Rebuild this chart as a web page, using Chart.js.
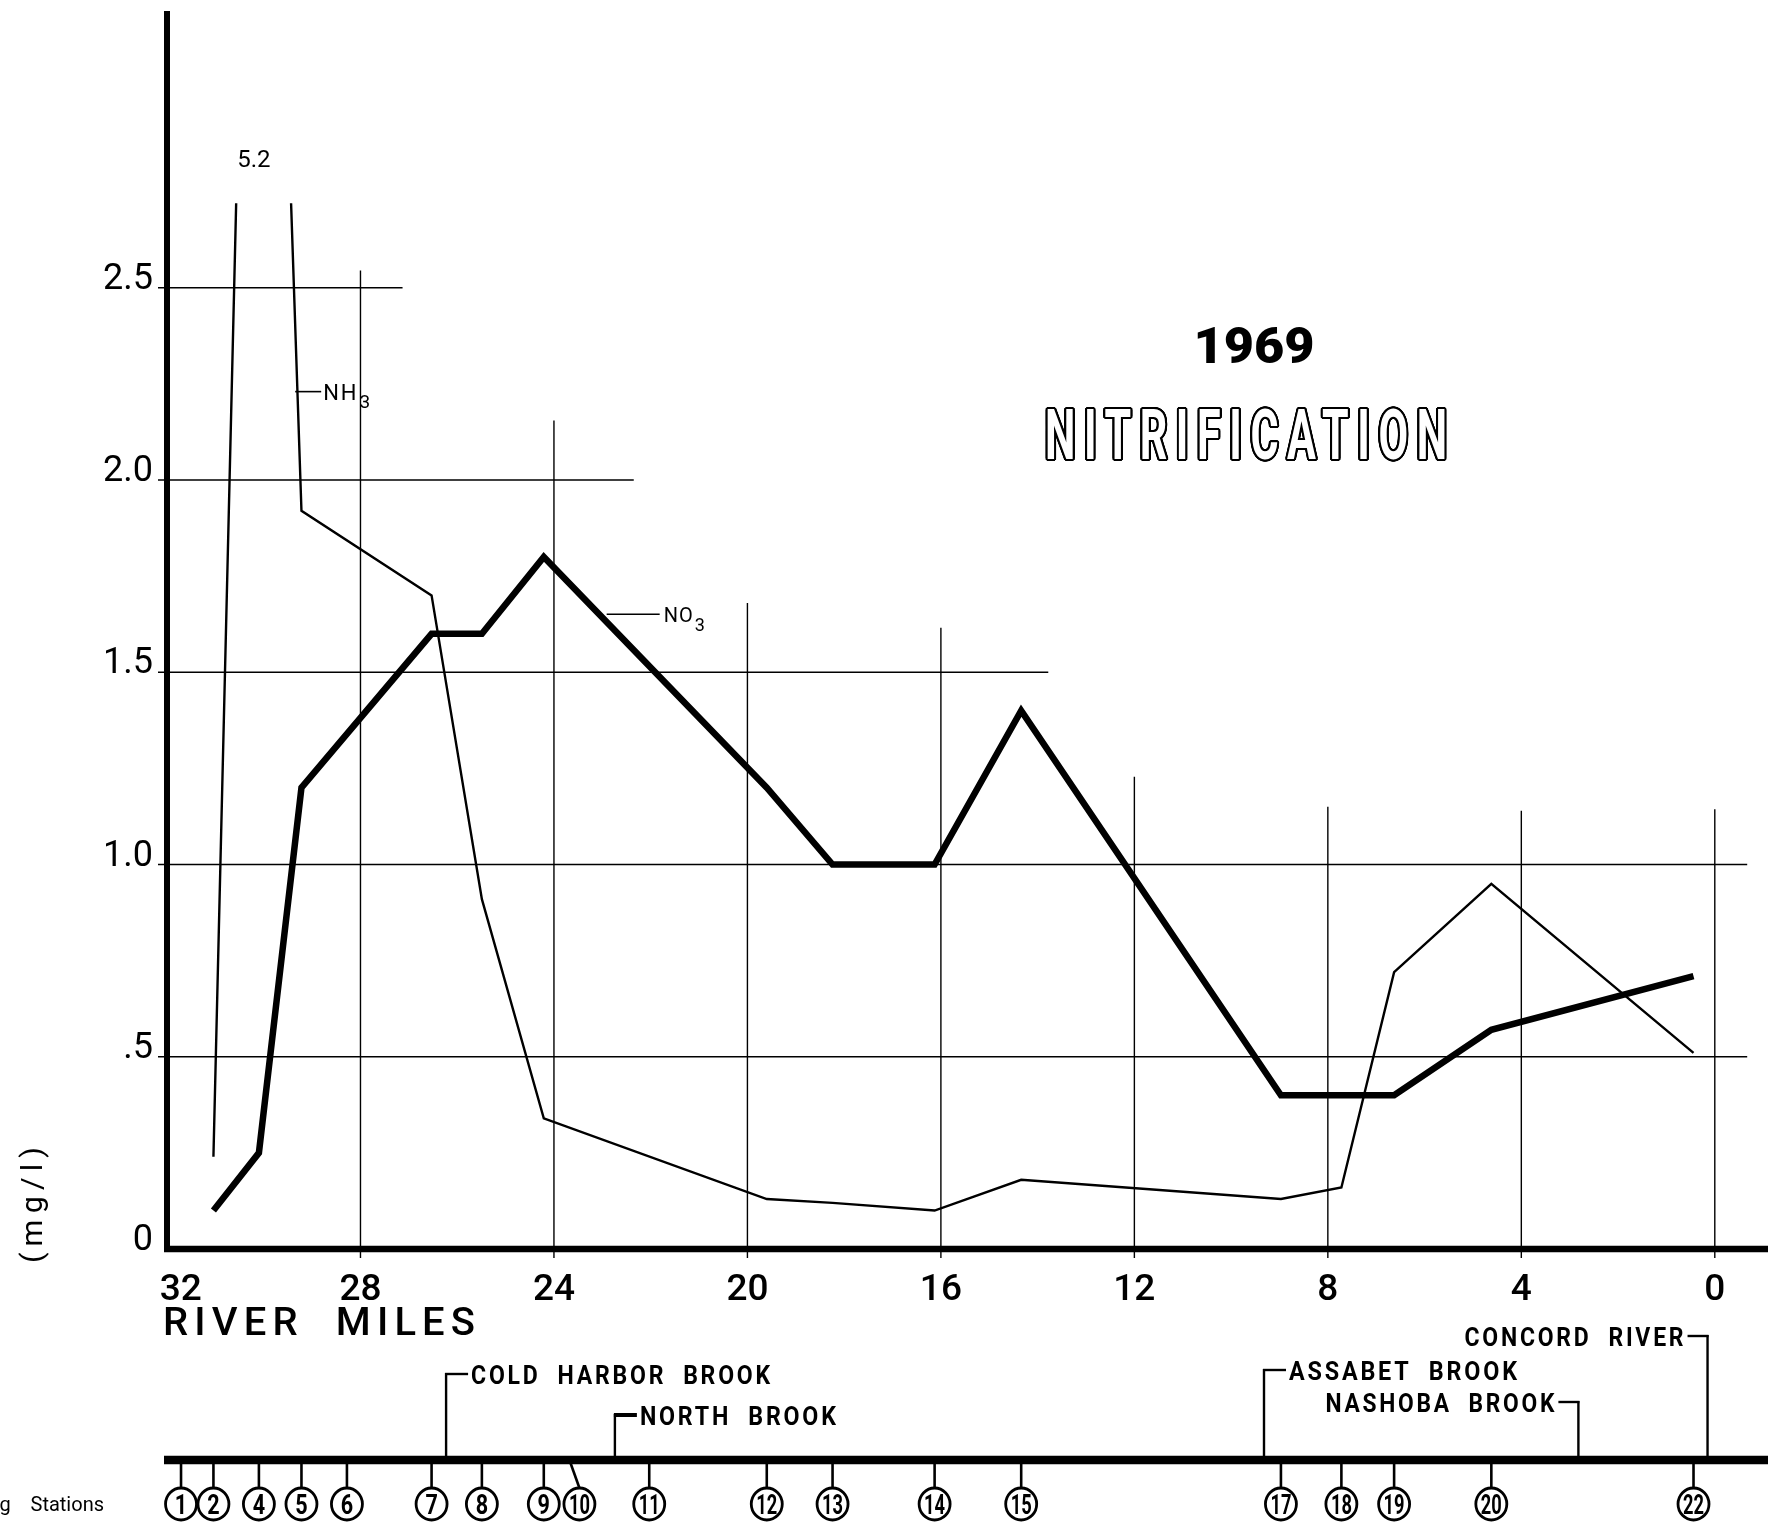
<!DOCTYPE html>
<html>
<head>
<meta charset="utf-8">
<title>1969 Nitrification</title>
<script src="https://cdn.jsdelivr.net/npm/chart.js@4.4.1/dist/chart.umd.min.js"></script>
<style>
  html, body { margin: 0; padding: 0; background: #ffffff; }
  canvas { display: block; }
</style>
</head>
<body>
<canvas id="chart" width="1768" height="1522"></canvas>
<script>
// ---- Axis ticks ----------------------------------------------------------
const mileTicks = [32, 28, 24, 20, 16, 12, 8, 4, 0];
const concTicks = [0, 0.5, 1.0, 1.5, 2.0, 2.5];
const concTickLabels = ['0', '.5', '1.0', '1.5', '2.0', '2.5'];

// ---- Sampling stations (number, river mile) -------------------------------
const stationNumbers = [1, 2, 4, 5, 6, 7, 8, 9, 10, 11, 12, 13, 14, 15, 17, 18, 19, 20, 22];
const stationMiles = [31.71, 31.04, 30.10, 29.22, 28.28, 26.53, 25.49, 24.21, 23.68, 22.03,
                      19.60, 18.24, 16.13, 14.34, 8.97, 7.72, 6.63, 4.62, 0.44];

// ---- Ammonia, NH3 (mg/l) --------------------------------------------------
const nh3Miles = [31.04, 30.10, 29.22, 26.53, 25.49, 24.21, 19.60, 18.24, 16.13, 14.34,
                  8.97, 7.72, 6.63, 4.62, 0.44];
const nh3Values = [0.24, 5.2, 1.92, 1.70, 0.91, 0.34, 0.13, 0.12, 0.10, 0.18,
                   0.13, 0.16, 0.72, 0.95, 0.51];

// ---- Nitrate, NO3 (mg/l) --------------------------------------------------
const no3Miles = [31.04, 30.10, 29.22, 26.53, 25.49, 24.21, 19.60, 18.24, 16.13, 14.34,
                  8.97, 6.63, 4.62, 0.44];
const no3Values = [0.10, 0.25, 1.20, 1.60, 1.60, 1.80, 1.20, 1.00, 1.00, 1.40,
                   0.40, 0.40, 0.57, 0.71];

// ---- Tributaries joining the river ---------------------------------------
const tributaryNames = ['COLD  HARBOR  BROOK', 'NORTH  BROOK', 'ASSABET  BROOK',
                        'NASHOBA  BROOK', 'CONCORD  RIVER'];
const tributaryMiles = [26.23, 22.74, 9.32, 2.82, 0.15];

// ---- Drawing settings -----------------------------------------------------
const INK = '#000000';
const NH3_CUT = 2.72;               // off-scale NH3 peak is broken at this level
const hGridEnds = {0.5: -0.67, 1.0: -0.67, 1.5: 13.78, 2.0: 22.35, 2.5: 27.13};
const vGridTops = {28: 2.545, 24: 2.155, 20: 1.68, 16: 1.616, 12: 1.228, 8: 1.15, 4: 1.14, 0: 1.144};
const tributaryStyle = [
  {side: 'left',  y: 1374, width: 299},
  {side: 'left',  y: 1415, width: 196},
  {side: 'left',  y: 1370, width: 228},
  {side: 'right', y: 1402, width: 229},
  {side: 'right', y: 1336, width: 219}
];
const STATION_LINE_Y = 1460;
const STATION_CIRCLE_Y = 1504;
const STATION_R = 16;

function toPoints(xs, ys) {
  return xs.map((x, i) => ({x: x, y: ys[i]}));
}

// Text helper: centres the ink vertically on cy and optionally squeezes
// the run horizontally to a given width. `outline` draws hollow letters.
function label(ctx, text, x, cy, o) {
  ctx.save();
  ctx.font = o.font;
  ctx.letterSpacing = (o.spacing || 0) + 'px';
  ctx.textAlign = 'left';
  ctx.textBaseline = 'alphabetic';
  const m = ctx.measureText(text);
  const w = m.width - (o.spacing || 0);
  const sx = o.width ? o.width / w : (o.sx || 1);
  const drawn = w * sx;
  const left = o.align === 'right' ? x - drawn : (o.align === 'center' ? x - drawn / 2 : x);
  const base = cy + (m.actualBoundingBoxAscent - m.actualBoundingBoxDescent) / 2;
  const put = (dx, dy, colour) => {
    ctx.save();
    ctx.translate(left + dx, base + dy);
    ctx.scale(sx, 1);
    ctx.fillStyle = colour;
    ctx.fillText(text, 0, 0);
    ctx.restore();
  };
  if (o.outline) {
    const r = o.outline;
    for (let k = 0; k < 24; k++) {
      const a = k / 24 * Math.PI * 2;
      put(Math.cos(a) * r, Math.sin(a) * r, INK);
    }
    put(0, 0, '#ffffff');
  } else {
    put(0, 0, INK);
  }
  ctx.restore();
  return left + drawn;
}

function line(ctx, x1, y1, x2, y2, w) {
  ctx.save();
  ctx.strokeStyle = INK;
  ctx.lineWidth = w;
  ctx.lineCap = 'butt';
  ctx.beginPath();
  ctx.moveTo(x1, y1);
  ctx.lineTo(x2, y2);
  ctx.stroke();
  ctx.restore();
}

const paperPlugin = {
  id: 'paper',
  beforeDraw(chart) {
    const ctx = chart.ctx;
    ctx.save();
    ctx.fillStyle = '#ffffff';
    ctx.fillRect(0, 0, chart.width, chart.height);
    ctx.restore();
  }
};

// Stepped grid: each line stops where the hand-drawn sheet stopped it.
const gridPlugin = {
  id: 'steppedGrid',
  beforeDatasetsDraw(chart) {
    const {ctx, scales: {x, y}} = chart;
    const x0 = x.getPixelForValue(32);
    concTicks.forEach(v => {
      if (!(v in hGridEnds)) return;
      const py = y.getPixelForValue(v);
      line(ctx, x0 - 9, py, x.getPixelForValue(hGridEnds[v]), py, 1.4);
    });
    mileTicks.forEach(m => {
      if (!(m in vGridTops)) return;
      const px = x.getPixelForValue(m);
      line(ctx, px, y.getPixelForValue(vGridTops[m]), px, y.getPixelForValue(0) + 9, 1.4);
    });
  },
  beforeDatasetDraw(chart, args) {
    if (args.index !== 0) return;
    const {ctx, scales: {y}} = chart;
    const top = y.getPixelForValue(NH3_CUT);
    ctx.save();
    ctx.beginPath();
    ctx.rect(0, top, chart.width, chart.height - top);
    ctx.clip();
  },
  afterDatasetDraw(chart, args) {
    if (args.index !== 0) return;
    chart.ctx.restore();
  },
  afterDatasetsDraw(chart) {
    const {ctx, scales: {x, y}, chartArea} = chart;
    const x0 = x.getPixelForValue(32);
    const y0 = y.getPixelForValue(0);
    // heavy axes
    line(ctx, x0, chartArea.top, x0, y0 + 3, 6);
    line(ctx, x0 - 3, y0, chart.width, y0, 6.5);
  }
};

const notesPlugin = {
  id: 'notes',
  afterDraw(chart) {
    const {ctx, scales: {x, y}} = chart;

    // value of the off-scale ammonia peak
    let peak = 0;
    nh3Values.forEach((v, i) => { if (v > nh3Values[peak]) peak = i; });
    label(ctx, nh3Values[peak].toFixed(1), x.getPixelForValue(nh3Miles[peak]) - 5,
          y.getPixelForValue(NH3_CUT) - 45, {font: '24px Roboto', align: 'center'});

    // series tags
    const nh3x = x.getPixelForValue(29.35), nh3y = y.getPixelForValue(2.23);
    line(ctx, nh3x, nh3y, nh3x + 26, nh3y, 1.6);
    let e = label(ctx, 'NH', nh3x + 28, nh3y, {font: '22px Roboto', spacing: 2});
    label(ctx, '3', e + 3, nh3y + 10, {font: '19px Roboto'});

    const no3x = x.getPixelForValue(22.91), no3y = y.getPixelForValue(1.651);
    line(ctx, no3x, no3y, no3x + 53, no3y, 1.6);
    e = label(ctx, 'NO', no3x + 57, no3y, {font: '20px Roboto', spacing: 1});
    label(ctx, '3', e + 2, no3y + 10, {font: '18px Roboto'});

    // title block
    label(ctx, '1969', 1254, 345, {font: '900 50px Roboto', align: 'center', width: 121});
    label(ctx, 'NITRIFICATION', 1246, 434,
          {font: '700 70px Roboto', align: 'center', width: 402, spacing: 14, outline: 2});

    // axis captions
    label(ctx, 'RIVER  MILES', 163, 1321, {font: '500 39px Roboto', width: 312, spacing: 6});
    ctx.save();
    ctx.translate(33, 1205);
    ctx.rotate(-Math.PI / 2);
    label(ctx, '(mg/l)', 0, 0, {font: '30px Roboto', align: 'center', width: 116, spacing: 6});
    ctx.restore();

    // station strip
    const xs = x.getPixelForValue(32);
    line(ctx, xs - 3, STATION_LINE_Y, chart.width, STATION_LINE_Y, 8.5);
    stationNumbers.forEach((n, i) => {
      const px = x.getPixelForValue(stationMiles[i]);
      const cx = n === 10 ? px + 10 : px;
      line(ctx, px, STATION_LINE_Y, cx, STATION_CIRCLE_Y - STATION_R, 2.6);
      ctx.save();
      ctx.strokeStyle = INK;
      ctx.lineWidth = 2.8;
      ctx.beginPath();
      ctx.ellipse(cx, STATION_CIRCLE_Y, STATION_R - 0.5, STATION_R, 0, 0, Math.PI * 2);
      ctx.stroke();
      ctx.restore();
      const txt = String(n);
      label(ctx, txt, cx, STATION_CIRCLE_Y, {font: '700 27px Roboto', align: 'center',
            width: txt.length > 1 ? 21 : undefined, sx: 0.8});
    });
    label(ctx, 'Sampling    Stations', 104, 1505, {font: '20px Roboto', align: 'right'});

    // tributary brackets
    tributaryNames.forEach((name, i) => {
      const st = tributaryStyle[i];
      const bx = x.getPixelForValue(tributaryMiles[i]);
      line(ctx, bx, STATION_LINE_Y, bx, st.y - 1, 2.4);
      if (st.side === 'left') {
        line(ctx, bx - 1, st.y, bx + 22, st.y, i === 1 ? 4 : 2.4);
        label(ctx, name, bx + 25, st.y, {font: '700 25px Roboto', width: st.width, spacing: 3});
      } else {
        line(ctx, bx + 1, st.y, bx - 20, st.y, 2.4);
        label(ctx, name, bx - 24, st.y, {font: '700 25px Roboto', width: st.width,
              spacing: 3, align: 'right'});
      }
    });
  }
};

new Chart(document.getElementById('chart'), {
  type: 'line',
  data: {
    datasets: [
      {
        label: 'NH3',
        data: toPoints(nh3Miles, nh3Values),
        borderColor: INK,
        borderWidth: 2.4,
        pointRadius: 0,
        tension: 0,
        fill: false,
        borderJoinStyle: 'miter',
        clip: false
      },
      {
        label: 'NO3',
        data: toPoints(no3Miles, no3Values),
        borderColor: INK,
        borderWidth: 6.5,
        pointRadius: 0,
        tension: 0,
        fill: false,
        borderJoinStyle: 'miter',
        borderCapStyle: 'butt'
      }
    ]
  },
  options: {
    responsive: false,
    animation: false,
    devicePixelRatio: 1,
    layout: {padding: {top: 11, left: 0, right: 0, bottom: 0}},
    plugins: {
      legend: {display: false},
      tooltip: {enabled: false},
      title: {display: false}
    },
    scales: {
      x: {
        type: 'linear',
        reverse: true,
        min: -1.1,
        max: 32,
        grid: {display: false},
        border: {display: false},
        afterBuildTicks: s => { s.ticks = mileTicks.map(v => ({value: v})); },
        afterFit: s => { s.height = 273; s.paddingLeft = 0; s.paddingRight = 0; },
        ticks: {
          autoSkip: false,
          maxRotation: 0,
          padding: 12,
          color: INK,
          font: {family: 'Roboto', size: 37, weight: '500'},
          // the first label sits clear of the vertical axis
          callback: v => (v === 32 ? '   ' : '') + String(v)
        }
      },
      y: {
        type: 'linear',
        min: 0,
        max: 3.22,
        grid: {display: false},
        border: {display: false},
        afterBuildTicks: s => { s.ticks = concTicks.map(v => ({value: v})); },
        afterFit: s => { s.width = 167; s.paddingTop = 0; s.paddingBottom = 0; },
        ticks: {
          padding: 6,
          labelOffset: -8,
          color: INK,
          font: {family: 'Roboto', size: 36},
          callback: v => concTickLabels[concTicks.indexOf(v)]
        }
      }
    }
  },
  plugins: [paperPlugin, gridPlugin, notesPlugin]
});
</script>
</body>
</html>
